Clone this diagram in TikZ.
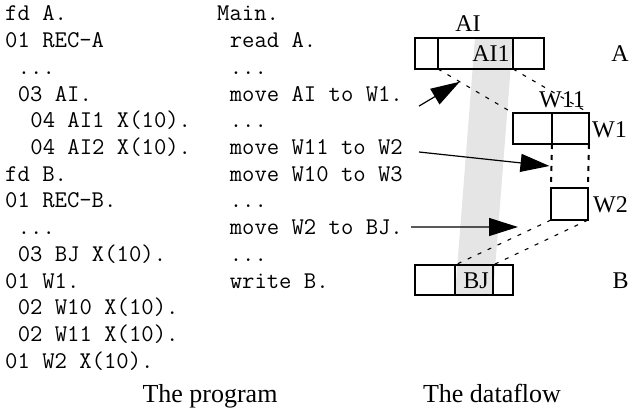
\documentclass[tikz,border=0pt]{standalone}
\usepackage{fontspec}
\setmainfont{Liberation Serif}
\usetikzlibrary{arrows.meta,backgrounds}
\newcommand{\skipped}{...}

\begin{document}
\begin{tikzpicture}[x=1pt, y=-1pt,
    code/.style={font=\ttfamily\fontsize{24}{24}\selectfont, anchor=base west, inner sep=0pt},
    lbl/.style={font=\fontsize{24}{24}\selectfont, anchor=base, inner sep=0pt},
    legend/.style={font=\fontsize{26}{26}\selectfont, anchor=base, inner sep=0pt},
    cell/.style={draw, line width=2pt, anchor=north west, inner sep=0pt, outer sep=0pt, minimum height=31pt},
    link/.style={line width=1.1pt, dash pattern=on 4pt off 7pt},
    track/.style={line width=2pt, dash pattern=on 5pt off 6pt},
    flow/.style={-{Triangle[length=29pt, width=18pt]}, line width=1.2pt}]

  \useasboundingbox (0,0) rectangle (629,409);

  % the program: data part and procedure part
  \foreach \ind/\txt [count=\i from 0] in {0/fd A., 0/01 REC-A, 1/\skipped, 1/03 AI.,
      2/04 AI1 X(10)., 2/04 AI2 X(10)., 0/fd B., 0/01 REC-B., 1/\skipped, 1/03 BJ X(10).,
      0/01 W1., 1/02 W10 X(10)., 1/02 W11 X(10)., 0/01 W2 X(10).}
    \node[code] (p\i) at (5+12.6*\ind, 21+26.7*\i) {\txt};
  \foreach \ind/\txt [count=\i from 0] in {0/Main., 1/read A., 1/\skipped, 1/move AI to W1.,
      1/\skipped, 1/move W11 to W2, 1/move W10 to W3, 1/\skipped, 1/move W2 to BJ.,
      1/\skipped, 1/write B.}
    \node[code] (m\i) at (217+12.6*\ind, 21+26.7*\i) {\txt};

  \node[legend] (capP) at (210,402) {The program};
  \node[legend] (capD) at (492,402) {The dataflow};

  % record A
  \node[cell, minimum width=23pt] (a0) at (415,38) {};
  \node[cell, minimum width=75pt] (aI) at (438,38) {};
  \node[cell, minimum width=31pt] (a2) at (513,38) {};
  \coordinate (ai1) at (475,38);
  \node[lbl] (lAI) at (468,31.7) {AI};
  \node[lbl] (lAI1) at (491,62) {AI1};
  \node[lbl] (lA) at (620,62) {A};

  % W1 and W2
  \node[cell, minimum width=39pt] (w0) at (513,113) {};
  \node[cell, minimum width=37pt] (w1) at (552,113) {};
  \node[cell, minimum width=37pt, minimum height=32pt] (w2) at (551,188) {};
  \node[lbl] (lW11) at (562,108) {W11};
  \node[lbl] (lW1) at (609.5,138) {W1};
  \node[lbl] (lW2) at (610.5,212) {W2};

  % record B
  \node[cell, minimum width=40pt, minimum height=30pt] (b0) at (415,265) {};
  \node[cell, minimum width=38pt, minimum height=30pt] (bJ) at (455,265) {};
  \node[cell, minimum width=20pt, minimum height=30pt] (b2) at (493,265) {};
  \node[lbl] (lBJ) at (476,288) {BJ};
  \node[lbl] (lB) at (620.5,288) {B};

  \begin{scope}[on background layer]
    \fill[gray!20] (ai1) -- (aI.north east) -- (bJ.south east) -- (bJ.south west) -- cycle;
  \end{scope}

  % dataflow
  \draw[link] (aI.south west) -- (w0.north west);
  \draw[link] (aI.south east) -- (w1.north east);
  \draw[track] (w1.south west) -- (w2.north west);
  \draw[track] (w1.south east) -- (w2.north east);
  \draw[link] (w2.south west) -- (bJ.north west);
  \draw[link] (w2.south east) -- (bJ.north east);

  % statements pointing at the moves
  \coordinate (s1) at ([shift={(16,5)}]m3.base east);
  \coordinate (s2) at ([shift={(16,-2.5)}]m5.base east);
  \coordinate (s3) at ([shift={(8,-7.6)}]m8.base east);
  \path (aI.south west) -- (w0.north west) coordinate[pos=0.29] (e1);
  \path (w1.south west) -- (w2.north west) coordinate[pos=0.5] (e2);
  \coordinate (e3) at (518,227);
  \draw[flow] (s1) -- (e1);
  \draw[flow] (s2) -- ([xshift=-2pt]e2);
  \draw[flow] (s3) -- (e3);
\end{tikzpicture}
\end{document}
